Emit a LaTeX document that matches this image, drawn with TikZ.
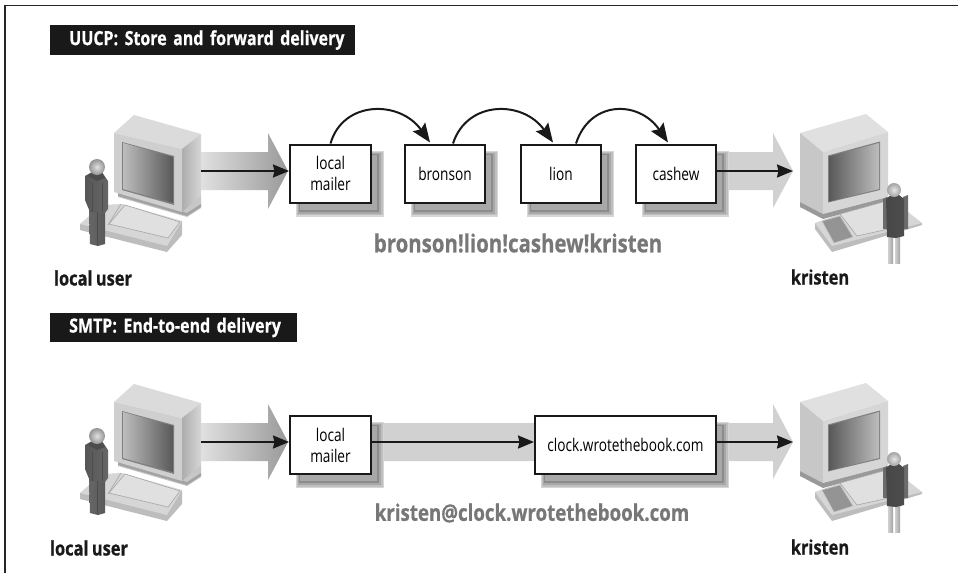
\documentclass[tikz,border=0pt]{standalone}
\usepackage{fontspec}
\usetikzlibrary{arrows.meta,backgrounds,calc}
\setmainfont{Open Sans}
\newfontfamily\condreg[FakeStretch=0.78,WordSpace=0.85]{Open Sans}
\newfontfamily\condbold[FakeStretch=0.82,FakeBold=0.6,WordSpace=0.8]{Open Sans Bold}
\definecolor{labelgray}{HTML}{777777}
\tikzset{
  mailbox/.style={draw=black!90,line width=2pt,fill=white,inner sep=0pt,minimum height=58pt,align=center,
    font=\fontsize{17.5}{21}\selectfont\condreg},
  titlebar/.style={fill=black!90,text=white,anchor=west,inner sep=0pt,minimum height=29.5pt,
    font=\fontsize{19.5}{21}\selectfont\condbold,align=left},
  caption/.style={font=\fontsize{20}{24}\selectfont\condbold,text=black!90,anchor=center},
  routelabel/.style={font=\fontsize{24.9}{28}\selectfont\condbold,text=labelgray,anchor=center},
  link/.style={draw=black!90,line width=2pt,-{Stealth[length=16pt,width=13pt,inset=1.5pt]}},
  hop/.style={draw=black!90,line width=2pt,-{Stealth[length=19pt,width=15pt,inset=3pt]}},
}
\newcommand{\boxshadow}[1]{%
  \fill[black!16] ($(#1.north west)+(7,7)$) rectangle ($(#1.south east)+(12,13)$);
  \fill[black!25] ($(#1.north west)+(8,8)$) rectangle ($(#1.south east)+(10.5,11.5)$);
  \fill[black!34] ($(#1.north west)+(9,9)$) rectangle ($(#1.south east)+(9,10)$);
  \fill[black!45] ($(#1.north west)+(10,10)$) rectangle ($(#1.south east)+(7,8)$);
  \fill[black!34] ($(#1.north west)+(11,11)$) rectangle ($(#1.south east)+(5,6)$);
}
\newcommand{\userarrow}{%
  \shade[left color=black!12,middle color=black!24,right color=black!40]
    (201,152) -- (268,152) -- (268,133) -- (288,171) -- (268,209) -- (268,190) -- (201,190) -- cycle;
}
\newcommand{\leftstation}{%
  % platform
  \fill[black!26] (80,224) -- (80,230) -- (167,252) -- (182,235) -- (182,221) -- cycle;
  \fill[black!16] (80,224) -- (102,205) -- (122,204) -- (182,221) -- (167,246) -- cycle;
  \fill[black!22] (187,217) -- (118,197) -- (118,191) -- (201,196) -- (201,208) -- cycle;
  \fill[black!36] (118,196) -- (187,216) -- (201,207) -- (201,204) -- (187,213) -- (118,193) -- cycle;
  \fill[black!12,draw=black!35,line width=.6pt] (125,205) -- (180,222) -- (168,238) -- (109,224) -- cycle;
  \draw[black!35,line width=.6pt] (121,204) -- (108,225);
  % monitor
  \fill[black!14] (114,133) -- (134,115) -- (201,134) -- (182,149) -- cycle;
  \fill[black!19] (114,133) -- (182,149) -- (182,212) -- (114,192) -- cycle;
  \shade[left color=black!32,right color=black!16] (182,149) -- (201,134) -- (201,196) -- (182,212) -- cycle;
  \fill[black!50] (122,142) -- (174,156) -- (174,205) -- (122,190) -- cycle;
  \shade[left color=black!26,middle color=black!38,right color=black!65]
    (123,143) -- (173,157) -- (173,203) -- (123,189) -- cycle;
  % person
  \shade[left color=black!60,middle color=black!40,right color=black!65]
    (89,205) -- (105,205) -- (105,244) -- (98,246) -- (90,244) -- cycle;
  \shade[left color=black!66,middle color=black!46,right color=black!60]
    (85,176) -- (92,172) -- (102,172) -- (108,181) -- (108,209) -- (105,213) -- (90,212) -- (85,200) -- cycle;
  \fill[black!70] (88,176) -- (92,173) -- (102,173) -- (105,178) -- (97,181) -- cycle;
  \draw[black!70,line width=.5pt] (97,212) -- (97,245) (92,183) -- (92,212) (102,183) -- (102,212);
  \shade[inner color=black!12,outer color=black!42] (97,167) circle (8);
}
\newcommand{\rightstation}{%
  \fill[black!26] (815,223) -- (815,229) -- (832,252) -- (922,225) -- (922,223) -- cycle;
  \fill[black!16] (815,223) -- (840,214) -- (883,200) -- (908,212) -- (922,223) -- (832,246) -- cycle;
  \fill[black!40] (800,201) -- (800,207) -- (823,219) -- (888,201) -- (888,196) -- cycle;
  \fill[black!42,draw=black!22,line width=.5pt] (822,221) -- (840,216) -- (853,237) -- (834,243) -- cycle;
  \fill[black!12,draw=black!35,line width=.6pt] (840,214) -- (883,202) -- (907,225) -- (857,236) -- cycle;
  % monitor
  \fill[black!12] (800,133) -- (866,114) -- (888,132) -- (823,152) -- cycle;
  \fill[black!22] (800,133) -- (823,152) -- (823,214) -- (800,202) -- cycle;
  \fill[black!16] (823,152) -- (888,132) -- (888,197) -- (823,214) -- cycle;
  \fill[black!50] (828,155.5) -- (880,141.5) -- (880,190) -- (828,202.5) -- cycle;
  \shade[left color=black!65,middle color=black!36,right color=black!26]
    (829,156.5) -- (879,143) -- (879,189) -- (829,201.5) -- cycle;
  % person
  \shade[left color=black!18,right color=black!36] (888,236) rectangle (893,263);
  \shade[left color=black!18,right color=black!36] (895,236) rectangle (900,263);
  \fill[black!58] (883,199) -- (887,197) -- (887,229) -- (883,229) -- cycle;
  \fill[black!58] (903,197) -- (908,195) -- (908,229) -- (903,229) -- cycle;
  \shade[left color=black!72,middle color=black!58,right color=black!70]
    (886,199) -- (891,195) -- (899,195) -- (904,199) -- (904,236) -- (896,238) -- (887,237) -- cycle;
  \shade[inner color=black!10,outer color=black!36] (894,190) circle (7);
}
\begin{document}
\begin{tikzpicture}[x=1pt,y=-1pt]
\useasboundingbox (0,0) rectangle (958,573);
% named anchors of the row ends
\coordinate (userA) at (201,171);
\coordinate (userB) at (201,442);
\coordinate (tipA) at (793,171);
\coordinate (tipB) at (793,442);
% mail hosts, row 1
\node[mailbox,minimum width=81pt] (mailerA) at (330.5,173.5) {local\\mailer};
\node[mailbox,minimum width=80pt] (bronson) at (445,173.5) {bronson};
\node[mailbox,minimum width=80pt] (lion) at (561,173.5) {lion};
\node[mailbox,minimum width=80pt] (cashew) at (676,173.5) {cashew};
% mail hosts, row 2
\node[mailbox,minimum width=81pt] (mailerB) at (330.5,445) {local\\mailer};
\node[mailbox,minimum width=181pt] (clock) at (625.5,445) {clock.wrotethebook.com};
% titles and labels
\node[titlebar,text width=305pt] (titleA) at (50,40) {\hspace*{19pt}UUCP: Store and forward delivery};
\node[titlebar,text width=247pt] (titleB) at (50,327.5) {\hspace*{19pt}SMTP: End-to-end delivery};
\node[caption] (userLabelA) at (93,278) {local user};
\node[caption] (kristenA) at (820,277) {kristen};
\node[caption] (userLabelB) at (89,548) {local user};
\node[caption] (kristenB) at (820,547) {kristen};
\node[routelabel] (routeA) at (518,243) {bronson!lion!cashew!kristen};
\node[routelabel,font=\fontsize{22.8}{26}\selectfont\condbold] (routeB) at (532,513) {kristen@clock.wrotethebook.com};
\begin{scope}[on background layer]
  \fill[white] (0,0) rectangle (958,573);
  \draw[black!85,line width=1.3pt] (5,573) -- (5,5.5) -- (958,5.5);
  \userarrow
  \begin{scope}[shift={(0,271)}]\userarrow\end{scope}
  \fill[black!18] (716,152) -- (773,152) -- (773,133) -- (793,171) -- (773,208) -- (773,190) -- (716,190) -- cycle;
  \fill[black!18] (371,423) -- (773,423) -- (773,404) -- (793,442) -- (773,479) -- (773,461) -- (371,461) -- cycle;
  \boxshadow{mailerA}\boxshadow{bronson}\boxshadow{lion}\boxshadow{cashew}
  \boxshadow{mailerB}\boxshadow{clock}
\end{scope}
% workstations
\leftstation
\begin{scope}[shift={(0,269)}]\leftstation\end{scope}
\rightstation
\begin{scope}[shift={(0,269)}]\rightstation\end{scope}
% connectors
\draw[link] (userA) -- (userA -| mailerA.west);
\draw[link] (cashew.east |- tipA) -- (tipA);
\draw[link] (userB) -- (userB -| mailerB.west);
\draw[link] (mailerB.east |- tipB) -- (clock.west |- tipB);
\draw[link] (clock.east |- tipB) -- (tipB);
\draw[hop] (mailerA.north) .. controls (343,100) and (400,100) .. ($(bronson.north west)+(26,-1)$);
\draw[hop] ($(bronson.north west)+(49,0)$) .. controls (467,100) and (523,100) .. ($(lion.north west)+(33,-1)$);
\draw[hop] ($(lion.north west)+(56,0)$) .. controls (590,100) and (639,100) .. ($(cashew.north west)+(33,-1)$);
\end{tikzpicture}
\end{document}
